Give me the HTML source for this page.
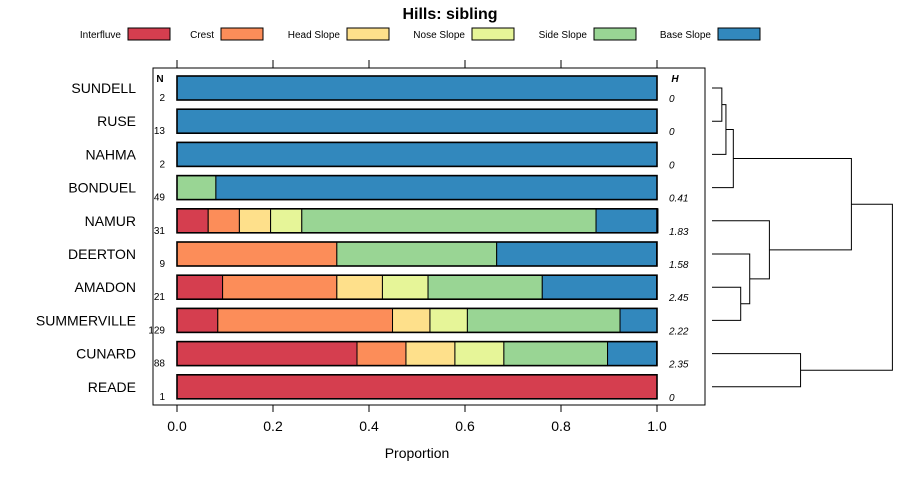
<!DOCTYPE html>
<html><head><meta charset="utf-8"><style>
body{margin:0;background:#fff}
svg{display:block;font-family:"Liberation Sans",sans-serif}
</style></head><body>
<svg id="c" width="900" height="480"></svg>
<script>
const rows=["SUNDELL","RUSE","NAHMA","BONDUEL","NAMUR","DEERTON","AMADON","SUMMERVILLE","CUNARD","READE"];
const nVals=[2,13,2,49,31,9,21,129,88,1];
const hVals=["0","0","0","0.41","1.83","1.58","2.45","2.22","2.35","0"];
const classes=["Interfluve","Crest","Head Slope","Nose Slope","Side Slope","Base Slope"];
const colors=["#D53E4F","#FC8D59","#FEE08B","#E6F598","#99D594","#3288BD"];
const interfluve=[0,0,0,0,0.065,0,0.095,0.085,0.375,1];
const crest=[0,0,0,0,0.065,0.333,0.238,0.364,0.102,0];
const headSlope=[0,0,0,0,0.065,0,0.095,0.078,0.102,0];
const noseSlope=[0,0,0,0,0.065,0,0.095,0.078,0.102,0];
const sideSlope=[0,0,0,0.081,0.613,0.333,0.238,0.318,0.216,0];
const baseSlope=[1,1,1,0.919,0.129,0.333,0.238,0.077,0.102,0];
const series=[interfluve,crest,headSlope,noseSlope,sideSlope,baseSlope];
const ticks=[0,0.2,0.4,0.6,0.8,1.0];
const tickLabels=["0.0","0.2","0.4","0.6","0.8","1.0"];
const merges=[[0,1,0.6],[10,2,0.85],[11,3,1.3],[6,7,1.75],[5,13,2.3],[4,14,3.5],[12,15,8.5],[8,9,5.4],[16,17,11]];
const NS="http://www.w3.org/2000/svg",svg=document.getElementById('c');
function el(t,a,txt){const e=document.createElementNS(NS,t);for(const k in a)e.setAttribute(k,a[k]);if(txt!=null)e.textContent=txt;svg.appendChild(e);return e;}
const x=v=>177+v*480, y=i=>88+i*33.2, bh=24;
const dx=h=>712+h*16.4;
let t=el('text',{x:450,y:19,'text-anchor':'middle','font-size':16,'font-weight':'bold'},'Hills: sibling');

const lgBox=[128,221,347,472,594,718];
classes.forEach((c,k)=>{
 let tx=el('text',{x:lgBox[k]-7,y:38,'text-anchor':'end','font-size':10},c);
 
 let r=el('rect',{x:lgBox[k],y:28,width:42,height:12,fill:colors[k],stroke:'#000','stroke-width':1});
 
});
let fr=el('rect',{x:153,y:68,width:552,height:337,fill:'none',stroke:'#000','stroke-width':1});

ticks.forEach((v,i)=>{
 let a=el('line',{x1:x(v),x2:x(v),y1:60,y2:68,stroke:'#000'});
 let b=el('line',{x1:x(v),x2:x(v),y1:405,y2:412,stroke:'#000'});
 let l=el('text',{x:x(v),y:431,'text-anchor':'middle','font-size':14},tickLabels[i]);
});
let xt=el('text',{x:417,y:458,'text-anchor':'middle','font-size':14},'Proportion');
let nh=el('text',{x:160,y:82,'text-anchor':'middle','font-size':10,'font-weight':'bold'},'N');
let hh=el('text',{x:675,y:82,'text-anchor':'middle','font-size':10,'font-weight':'bold','font-style':'italic'},'H');
rows.forEach((r,i)=>{
 let lb=el('text',{x:136,y:y(i)+5,'text-anchor':'end','font-size':14},r);
 let nt=el('text',{x:165,y:y(i)+13,'text-anchor':'end','font-size':10},nVals[i]);
 let ht=el('text',{x:669,y:y(i)+14,'font-size':10,'font-style':'italic'},hVals[i]);
 let cum=0;
 series.forEach((s,k)=>{const v=s[i];if(v>0){
  let b=el('rect',{x:x(cum),y:y(i)-bh/2,width:v*480,height:bh,fill:colors[k],stroke:'#000','stroke-width':1});
  }
  cum+=v;});
 let o=el('rect',{x:x(0),y:y(i)-bh/2,width:480,height:bh,fill:'none',stroke:'#000','stroke-width':1.6});
 
});
const nodeY={},nodeH={};
rows.forEach((r,i)=>{nodeY[i]=y(i);nodeH[i]=0;});
merges.forEach((m,k)=>{
 const [a,b,h]=m,id=10+k;
 const d=`M${dx(nodeH[a])},${nodeY[a]}H${dx(h)}V${nodeY[b]}H${dx(nodeH[b])}`;
 let p=el('path',{d:d,fill:'none',stroke:'#000','stroke-width':1});
 
 nodeY[id]=(nodeY[a]+nodeY[b])/2;nodeH[id]=h;
});
</script>
</body></html>
